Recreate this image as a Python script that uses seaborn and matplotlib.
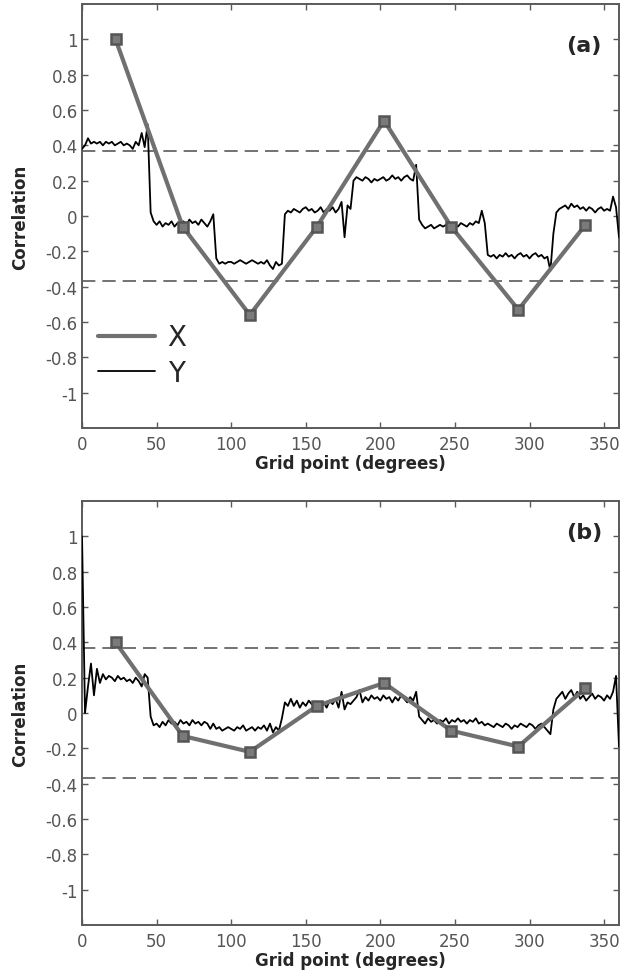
import numpy as np
import pandas as pd
import matplotlib
matplotlib.use("Agg")
import matplotlib.pyplot as plt
from matplotlib.lines import Line2D
import seaborn as sns

# coarse X correlation at the centre of each 45 degree sector
grid_x = [22.5, 67.5, 112.5, 157.5, 202.5, 247.5, 292.5, 337.5]
corr_x_a = [1.00, -0.06, -0.56, -0.06, 0.54, -0.06, -0.53, -0.05]
corr_x_b = [0.40, -0.13, -0.22, 0.04, 0.17, -0.10, -0.19, 0.14]

grid_y = np.arange(0, 361, 2)
corr_y_a = [
    0.38, 0.40, 0.44, 0.41, 0.42, 0.41, 0.42, 0.40, 0.42, 0.41,
    0.42, 0.40, 0.41, 0.42, 0.40, 0.41, 0.40, 0.38, 0.42, 0.40,
    0.47, 0.39, 0.52, 0.02, -0.03, -0.05, -0.03, -0.06, -0.04, -0.05,
    -0.03, -0.06, -0.04, -0.05, -0.03, -0.05, -0.02, -0.04, -0.03, -0.05,
    -0.02, -0.04, -0.06, -0.03, 0.01, -0.24, -0.27, -0.26, -0.27, -0.26,
    -0.26, -0.27, -0.26, -0.25, -0.26, -0.27, -0.26, -0.25, -0.26, -0.27,
    -0.26, -0.27, -0.25, -0.28, -0.30, -0.26, -0.28, -0.27, 0.01, 0.03,
    0.02, 0.04, 0.03, 0.02, 0.04, 0.05, 0.03, 0.04, 0.02, 0.03,
    0.05, 0.02, 0.04, 0.03, 0.05, 0.02, 0.04, 0.08, -0.12, 0.06,
    0.04, 0.20, 0.22, 0.21, 0.20, 0.22, 0.21, 0.19, 0.21, 0.20,
    0.21, 0.22, 0.20, 0.21, 0.23, 0.21, 0.22, 0.20, 0.22, 0.23,
    0.21, 0.20, 0.29, -0.02, -0.05, -0.07, -0.06, -0.05, -0.07, -0.06,
    -0.05, -0.06, -0.05, -0.04, -0.06, -0.05, -0.06, -0.04, -0.05, -0.06,
    -0.04, -0.05, -0.03, -0.04, 0.03, -0.04, -0.22, -0.23, -0.22, -0.24,
    -0.22, -0.23, -0.21, -0.23, -0.22, -0.24, -0.22, -0.21, -0.23, -0.22,
    -0.24, -0.22, -0.21, -0.23, -0.22, -0.24, -0.23, -0.31, -0.10, 0.02,
    0.04, 0.05, 0.06, 0.04, 0.07, 0.05, 0.06, 0.04, 0.05, 0.03,
    0.05, 0.04, 0.02, 0.04, 0.05, 0.03, 0.04, 0.03, 0.11, 0.05,
    -0.12,
]
corr_y_b = [
    1.00, 0.00, 0.15, 0.28, 0.10, 0.25, 0.17, 0.22, 0.19, 0.21,
    0.20, 0.18, 0.21, 0.19, 0.20, 0.18, 0.19, 0.17, 0.20, 0.18,
    0.15, 0.22, 0.20, -0.02, -0.07, -0.06, -0.08, -0.05, -0.07, -0.04,
    -0.06, -0.05, -0.07, -0.04, -0.06, -0.05, -0.07, -0.04, -0.06, -0.05,
    -0.07, -0.05, -0.06, -0.09, -0.06, -0.09, -0.08, -0.10, -0.09, -0.08,
    -0.09, -0.10, -0.08, -0.09, -0.07, -0.10, -0.09, -0.08, -0.10, -0.08,
    -0.09, -0.07, -0.10, -0.06, -0.11, -0.08, -0.10, -0.03, 0.06, 0.04,
    0.08, 0.04, 0.07, 0.03, 0.06, 0.04, 0.07, 0.05, 0.03, 0.06,
    0.04, 0.06, 0.03, 0.07, 0.05, 0.08, 0.03, 0.12, 0.02, 0.06,
    0.05, 0.07, 0.09, 0.13, 0.06, 0.09, 0.07, 0.10, 0.08, 0.09,
    0.07, 0.10, 0.08, 0.09, 0.06, 0.09, 0.07, 0.10, 0.08, 0.06,
    0.09, 0.07, 0.12, -0.02, -0.04, -0.06, -0.03, -0.05, -0.04, -0.06,
    -0.04, -0.05, -0.03, -0.06, -0.04, -0.05, -0.03, -0.05, -0.04, -0.06,
    -0.04, -0.05, -0.03, -0.06, -0.05, -0.07, -0.06, -0.07, -0.08, -0.06,
    -0.07, -0.08, -0.06, -0.07, -0.09, -0.07, -0.08, -0.06, -0.07, -0.08,
    -0.06, -0.07, -0.09, -0.07, -0.06, -0.08, -0.10, -0.12, 0.02, 0.08,
    0.10, 0.12, 0.08, 0.11, 0.13, 0.09, 0.12, 0.08, 0.10, 0.07,
    0.09, 0.11, 0.08, 0.10, 0.09, 0.07, 0.10, 0.08, 0.12, 0.21,
    -0.19,
]

xtick_vals = [0, 50, 100, 150, 200, 250, 300, 350]
ytick_vals = [-1, -0.8, -0.6, -0.4, -0.2, 0, 0.2, 0.4, 0.6, 0.8, 1]
ytick_labels = ["-1", "-0.8", "-0.6", "-0.4", "-0.2", "0",
                "0.2", "0.4", "0.6", "0.8", "1"]
threshold = 0.37

sns.set_theme(style="ticks")
plt.rcParams.update({
    "font.family": ["DejaVu Sans"],
    "axes.unicode_minus": False,
    "xtick.direction": "in",
    "ytick.direction": "in",
    "xtick.top": True,
    "ytick.right": True,
})

GRAY = "#707070"
AXIS_GRAY = "#5a5a5a"


def draw_panel(ax, corr_x, corr_y, label, label_y, legend=False):
    sns.lineplot(x=grid_y, y=corr_y, ax=ax, color="black", lw=1.3,
                 legend=False, zorder=3)
    sns.lineplot(x=grid_x, y=corr_x, ax=ax, color=GRAY, lw=3.0,
                 marker="s", markersize=7.5, markerfacecolor="#7a7a7a",
                 markeredgecolor="#555555", markeredgewidth=1.8,
                 legend=False, zorder=4)
    for t in (threshold, -threshold):
        ax.axhline(t, color=AXIS_GRAY, lw=1.2, ls=(0, (8, 4.2)), zorder=2)

    ax.set_xlim(0, 360)
    ax.set_ylim(-1.2, 1.2)
    ax.set_xticks(xtick_vals)
    ax.set_xticklabels([str(v) for v in xtick_vals])
    ax.set_yticks(ytick_vals)
    ax.set_yticklabels(ytick_labels)
    ax.tick_params(axis="both", labelsize=12, labelcolor="#555555",
                   color=AXIS_GRAY, length=4, width=1.0)
    ax.tick_params(axis="x", pad=5)
    ax.tick_params(axis="y", pad=3)
    for sp in ax.spines.values():
        sp.set_visible(True)
        sp.set_color(AXIS_GRAY)
        sp.set_linewidth(1.4)

    ax.set_xlabel("Grid point (degrees)", fontsize=12, fontweight="bold")
    ax.set_ylabel("Correlation", fontsize=12, fontweight="bold")
    ax.xaxis.set_label_coords(0.5, -0.062)
    ax.yaxis.set_label_coords(-0.098, 0.5)

    ax.text(0.935, label_y, label, transform=ax.transAxes, fontsize=16,
            fontweight="bold", ha="center", va="center")

    if legend:
        handles = [Line2D([], [], color=GRAY, lw=3.0),
                   Line2D([], [], color="black", lw=1.3)]
        ax.legend(handles, ["X", "Y"],
                  loc="upper left", bbox_to_anchor=(0.03, 0.247),
                  frameon=False, fontsize=20, handlelength=2.05,
                  handletextpad=0.45, labelspacing=0.28, borderpad=0,
                  borderaxespad=0)


fig = plt.figure(figsize=(6.2, 9.78), dpi=100)
ax_a = fig.add_axes([0.1323, 0.5613, 0.8661, 0.4336])
ax_b = fig.add_axes([0.1323, 0.0532, 0.8661, 0.4335])

draw_panel(ax_a, corr_x_a, corr_y_a, "(a)", 0.903, legend=True)
draw_panel(ax_b, corr_x_b, corr_y_b, "(b)", 0.927)

fig.savefig("out.png", dpi=100)
